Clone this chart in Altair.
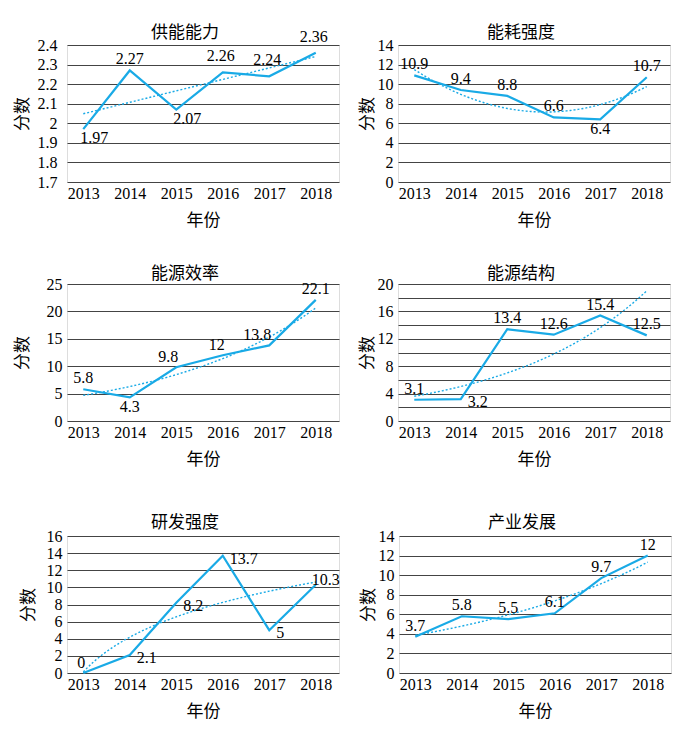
import json
import altair as alt
import pandas as pd

# ---------------- data ----------------
years = ["2013", "2014", "2015", "2016", "2017", "2018"]
year_index = [1, 2, 3, 4, 5, 6]

titles = ["供能能力", "能耗强度", "能源效率", "能源结构", "研发强度", "产业发展"]

supply_capacity = [1.97, 2.27, 2.07, 2.26, 2.24, 2.36]
energy_intensity = [10.9, 9.4, 8.8, 6.6, 6.4, 10.7]
energy_efficiency = [5.8, 4.3, 9.8, 12, 13.8, 22.1]
energy_structure = [3.1, 3.2, 13.4, 12.6, 15.4, 12.5]
rd_intensity = [0, 2.1, 8.2, 13.7, 5, 10.3]
industry_dev = [3.7, 5.8, 5.5, 6.1, 9.7, 12]

series = [supply_capacity, energy_intensity, energy_efficiency,
          energy_structure, rd_intensity, industry_dev]

y_domains = [[1.7, 2.4], [0, 14], [0, 25], [0, 20], [0, 16], [0, 14]]
grid_ticks = [
    [1.7, 1.8, 1.9, 2.0, 2.1, 2.2, 2.3, 2.4],
    [0, 2, 4, 6, 8, 10, 12, 14],
    [0, 5, 10, 15, 20, 25],
    [0, 2, 4, 6, 8, 10, 12, 14, 16, 18, 20],
    [0, 2, 4, 6, 8, 10, 12, 14, 16],
    [0, 2, 4, 6, 8, 10, 12, 14],
]
label_ticks = [
    [1.7, 1.8, 1.9, 2.0, 2.1, 2.2, 2.3, 2.4],
    [0, 2, 4, 6, 8, 10, 12, 14],
    [0, 5, 10, 15, 20, 25],
    [0, 4, 8, 12, 16, 20],
    [0, 2, 4, 6, 8, 10, 12, 14, 16],
    [0, 2, 4, 6, 8, 10, 12, 14],
]
trend_types = ["linear", "quad", "exp", "exp", "log", "exp"]

label_pos = [
    ["br", "a", "br", "a2", "a2", "a2"],
    ["a", "a", "a", "a", "b", "a"],
    ["a", "b", "al", "al", "al", "a"],
    ["a", "r", "a", "a", "a", "a"],
    ["al", "r", "r", "r", "r", "ar"],
    ["a", "a", "a", "a", "a", "a"],
]

# ---------------- style ----------------
SERIF = "Liberation Serif"
CJK = "Noto Sans CJK SC"
LINE = "#19aae6"
GRID = "#444444"
W, H = 272, 137

LABEL_STYLE = {
    "a": dict(align="center", dx=0, dy=-11),
    "a2": dict(align="center", dx=-2, dy=-16),
    "b": dict(align="center", dx=0, dy=10),
    "br": dict(align="left", dx=-3, dy=9),
    "r": dict(align="left", dx=7, dy=3),
    "al": dict(align="right", dx=2, dy=-10),
    "ar": dict(align="left", dx=-4, dy=-5),
}

y_label_pad = [10, 5, 5, 5, 5, 5]
y_title_x = [-45, -31, -45, -31, -39, -31]
title_dx = [-18, -13, -18, -13, -18, -13]
title_dy = [-3, -11, -9, -9, -12, -12]


def panel(i):
    vals = series[i]
    df = pd.DataFrame({
        "t": year_index,
        "v": vals,
        "lab": [f"{v:g}" for v in vals],
        "pos": label_pos[i],
    })
    base = alt.Chart(df)

    x = alt.X(
        "t:Q",
        scale=alt.Scale(domain=[0.65, 6.5], nice=False, zero=False),
        axis=alt.Axis(
            values=year_index,
            labelExpr=f"{json.dumps(years)}[datum.value - 1]",
            title="年份", grid=False, ticks=False, domain=False,
            labelFont=SERIF, labelFontSize=16, labelColor="black",
            labelPadding=3, labelFlush=False, labelOverlap=False,
            titleFont=CJK, titleFontSize=17, titleFontWeight="normal",
            titleColor="black", titlePadding=11,
        ),
    )
    yaxis_kw = dict(
        values=grid_ticks[i], format="~f", grid=True, gridColor=GRID,
        gridWidth=1.2, ticks=False, domain=False,
        labelFont=SERIF, labelFontSize=16, labelColor="black",
        labelPadding=y_label_pad[i], labelOverlap=False, labelFlush=False,
        title="分数", titleFont=CJK, titleFontSize=17,
        titleFontWeight="normal", titleColor="black",
        titleAngle=270, titleX=y_title_x[i], titleY=H / 2,
        titleAlign="center", titleBaseline="middle",
    )
    if label_ticks[i] != grid_ticks[i]:
        yaxis_kw["labelExpr"] = (
            f"indexof({json.dumps(label_ticks[i])}, datum.value) >= 0 ? datum.label : ''"
        )
    y = alt.Y(
        "v:Q",
        scale=alt.Scale(domain=y_domains[i], nice=False, zero=False),
        axis=alt.Axis(**yaxis_kw),
    )

    line = base.mark_line(color=LINE, strokeWidth=2.2).encode(x=x, y=y)

    method = trend_types[i]
    if method == "exp":
        trend = (
            base.transform_calculate(lv="log(datum.v)")
            .transform_regression("t", "lv", method="poly", order=1)
            .transform_calculate(v="exp(datum.lv)")
        )
    else:
        trend = base.transform_regression("t", "v", method=method)
    trend = trend.mark_line(color=LINE, strokeWidth=1.4,
                            strokeDash=[2, 2]).encode(x=x, y=y)

    layers = [line, trend]
    for p in sorted(set(label_pos[i])):
        layers.append(
            base.transform_filter(f"datum.pos == '{p}'")
            .mark_text(font=SERIF, fontSize=16, color="black",
                       baseline="middle", **LABEL_STYLE[p])
            .encode(x=x, y=y, text="lab:N")
        )

    return alt.layer(*layers).properties(
        width=W, height=H,
        title=alt.TitleParams(
            text=titles[i], font=CJK, fontSize=17, fontWeight="normal",
            color="black", offset=-16, dx=title_dx[i], dy=title_dy[i],
            anchor="middle",
        ),
    )


row1 = alt.hconcat(panel(0), panel(1), spacing=17)
row2 = alt.hconcat(panel(2), panel(3), spacing=17)
row3 = alt.hconcat(panel(4), panel(5), spacing=17)

chart = (
    alt.vconcat(alt.vconcat(row1, row2, spacing=35), row3, spacing=45)
    .properties(padding={"left": 4, "top": 15, "right": 5, "bottom": 2})
    .configure_view(stroke=None)
    .configure(background="white")
)

chart.save("out.html", embed_options={"renderer": "svg", "actions": False})
